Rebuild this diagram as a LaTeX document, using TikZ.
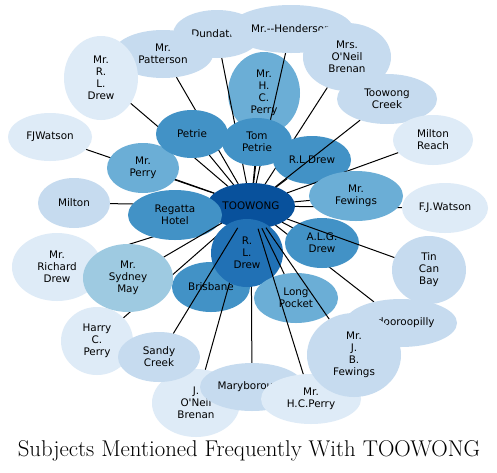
\documentclass[tikz,border=0pt]{standalone}
\usepackage{fontspec}
\newfontfamily\labfont{DejaVu Sans}
\usetikzlibrary{shapes.geometric}
\definecolor{c1}{HTML}{DEEBF7}
\definecolor{c2}{HTML}{C6DBEF}
\definecolor{c3}{HTML}{9ECAE1}
\definecolor{c4}{HTML}{6BAED6}
\definecolor{c5}{HTML}{4292C6}
\definecolor{c6}{HTML}{2171B5}
\definecolor{c7}{HTML}{08519C}
\tikzset{
  shp/.style={ellipse, inner sep=0pt, outer sep=0pt},
  bub/.style={ellipse, inner sep=0pt, outer sep=0pt},
  lab/.style={font=\labfont\fontsize{10.4}{12}\selectfont, align=center, inner sep=0pt, text=black},
  link/.style={draw=black, line width=1pt},
}
\def\listA{hcp1/264/93/36/41/c4/{Mr.\\H.\\C.\\Perry},
dun/217/34/44/24/c2/{Dundathu},
pat/163/54/50/24/c2/{Mr.\\Patterson},
mrld/101/78/37/42/c1/{Mr.\\R.\\L.\\Drew},
hen/291/29/62/24/c2/{Mr.-{}-Henderson},
mob/347/57/44/34/c2/{Mrs.\\O\textquotesingle Neil\\Brenan},
fjw/50/137/42/24/c1/{FJWatson},
mpe/143/168/36/25/c4/{Mr.\\Perry},
pet/192/134/36/24/c5/{Petrie},
tpe/257/142/35/24/c5/{Tom\\Petrie},
mil/74/203/36/25/c2/{Milton},
mrd/57/267/45/34/c1/{Mr.\\Richard\\Drew}}
\def\listB{reg/175/215/47/25/c5/{Regatta\\Hotel},
har/97/341/36/34/c1/{Harry\\C.\\Perry},
syd/128/278/45/34/c3/{Mr.\\Sydney\\May},
bri/211/287/39/25/c5/{Brisbane},
job/196/403/44/34/c1/{J.\\O\textquotesingle Neil\\Brenan},
mar/252/387/52/24/c2/{Maryborough},
rld/247/253/36/34/c6/{R.\\L.\\Drew},
san/159/357/41/25/c2/{Sandy\\Creek},
lon/296/298/42/25/c4/{Long\\Pocket},
hcp2/311/399/50/25/c1/{Mr.\\H.C.Perry},
ind/401/323/56/24/c2/{Indooroopilly},
jbf/354/355/47/42/c2/{Mr.\\J.\\B.\\Fewings},
alg/322/243/37/25/c5/{A.L.G.\\Drew},
tcb/429/270/37/34/c2/{Tin\\Can\\Bay},
rl2/312/160/39/24/c5/{R.L.Drew},
twc/387/99/50/25/c2/{Toowong\\Creek},
mre/433/140/40/25/c1/{Milton\\Reach},
fj2/445/208/43/25/c1/{F.J.Watson},
mfe/356/196/47/25/c4/{Mr.\\Fewings}}
\begin{document}
\begin{tikzpicture}[x=1pt,y=-1pt]
\useasboundingbox (0,0) rectangle (497,472);
\fill[white] (0,0) rectangle (497,472);
% invisible shapes for connector ends
\path (251,206) node[shp, minimum width=88pt, minimum height=46pt] (T) {};
\foreach \nm/\px/\py/\rw/\rh/\col/\txt in \listA {
  \path (\px,\py) node[shp, minimum width=\rw*2pt, minimum height=\rh*2pt] (\nm) {};
}
\foreach \nm/\px/\py/\rw/\rh/\col/\txt in \listB {
  \path (\px,\py) node[shp, minimum width=\rw*2pt, minimum height=\rh*2pt] (\nm) {};
}
% drawing in layer order: connector, then bubble, then label
\foreach \nm/\px/\py/\rw/\rh/\col/\txt in \listA {
  \draw[link] (\nm) -- (T);
  \path (\px,\py) node[bub, fill=\col, minimum width=\rw*2pt, minimum height=\rh*2pt] (\nm-f) {}
        node[lab] (\nm-t) {\txt};
}
\path (251,206) node[bub, fill=c7, minimum width=88pt, minimum height=46pt] (T-f) {}
      node[lab] (T-t) {TOOWONG};
\foreach \nm/\px/\py/\rw/\rh/\col/\txt in \listB {
  \draw[link] (\nm) -- (T);
  \path (\px,\py) node[bub, fill=\col, minimum width=\rw*2pt, minimum height=\rh*2pt] (\nm-f) {}
        node[lab] (\nm-t) {\txt};
}
\node[font=\fontsize{22.8}{27}\selectfont, anchor=base, inner sep=0pt] (title) at (249,456) {Subjects Mentioned Frequently With TOOWONG};
\end{tikzpicture}
\end{document}
